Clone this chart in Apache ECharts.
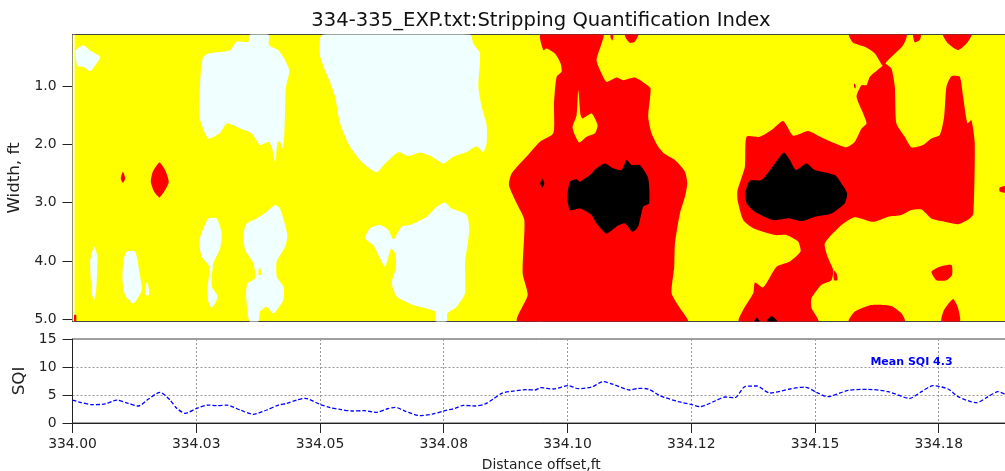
<!DOCTYPE html>
<html><head><meta charset="utf-8">
<style>html,body{margin:0;padding:0;background:#fff}#c{width:1005px;height:471px}</style>
<script src="https://cdn.jsdelivr.net/npm/echarts@6/dist/echarts.min.js"></script>
</head><body><div id="c"></div>
<script>
// All region outlines: [thousandths of a foot past 334.00, width in ft]
const xTickLabels = ["334.00","334.03","334.05","334.08","334.10","334.12","334.15","334.18"];
const widthTicks = [1,2,3,4,5];
const sqiTicks = [0,5,10,15];

const edgeBand = [
 [[0,.114],[.45,.114],[.45,5.04],[0,5.04]]
];

const lowRegions = [
 [[0.7,.38],[2.2,.30],[3.4,.38],[5.6,.50],[4.6,.64],[3.6,.74],[2.2,.67],[1.0,.66],[.7,.53]],
 [[35.74,.114],[39.58,.114],[39.71,.297],[41.6,.383],[42.94,.555],[43.82,.737],[43.14,1.01],[42.94,1.47],[42.8,1.81],[42.47,2.07],[41.93,1.955],[41.46,1.955],[40.92,2.30],[40.25,2.04],[39.58,1.955],[37.89,2.01],[36.21,1.81],[33.86,1.727],[31.16,1.64],[29.82,1.80],[27.46,1.90],[26.12,1.67],[25.58,1.47],[25.98,.669],[26.45,.497],[27.46,.44],[30.15,.41],[31.84,.383],[33.18,.24],[35.54,.24]],
 [[50.5,.114],[50.0,.47],[51.0,.726],[52.0,.926],[53.05,1.18],[54.06,1.64],[56.08,2.04],[58.77,2.33],[61.46,2.48],[63.14,2.33],[65.84,2.13],[67.86,2.2],[70.21,2.14],[72.57,2.21],[74.92,2.33],[76.94,2.21],[79.63,2.13],[81.65,2.03],[83,2.13],[83.67,1.98],[83.67,1.67],[82.66,1.355],[81.99,1.01],[82.33,.44],[80.98,.27],[80.31,.114]],
 [[27.46,3.27],[29.15,3.27],[30.15,3.53],[29.82,3.785],[28.47,4.04],[28.14,4.44],[29.35,4.61],[28.14,4.81],[27.46,4.70],[27.26,4.50],[27.66,4.10],[26.12,3.93],[25.58,3.67],[26.45,3.44]],
 [[40.92,3.04],[41.93,3.10],[43.41,3.556],[42.94,3.756],[41.26,4.01],[41.26,4.27],[42.6,4.44],[42.6,4.67],[40.59,4.90],[39.24,4.785],[37.89,4.87],[37.56,5.04],[35.74,5.04],[35.07,4.61],[35.33,4.385],[36.88,4.30],[36.55,4.04],[34.87,3.81],[34.53,3.53],[35.2,3.356],[37.22,3.27],[39.24,3.156]],
 [[4.38,3.756],[5.05,3.93],[4.78,4.5],[4.38,4.67],[3.9,4.556],[3.57,3.985]],
 [[10.97,3.84],[12.66,3.84],[13.67,4.27],[14.0,4.5],[12.32,4.73],[10.64,4.59],[10.1,4.33],[10.3,3.985]],
 [[15.0,4.36],[15.5,4.5],[15.4,4.59],[14.8,4.59],[14.75,4.47]],
 [[59.11,3.61],[60.12,3.44],[62.14,3.385],[63.82,3.47],[64.83,3.63],[66.51,3.41],[68.19,3.385],[71.56,3.24],[73.58,3.07],[75.26,2.996],[76.6,3.10],[79.63,3.21],[80.17,3.47],[79.3,4.04],[79.3,4.557],[77.61,4.785],[75.73,4.90],[75.6,5.04],[73.44,5.04],[73.31,4.87],[68.87,4.757],[65.5,4.61],[64.49,4.385],[65.37,4.10],[65.16,3.87],[64.36,3.785],[63.14,4.10],[61.8,3.90],[60.79,3.73]]
];

const midHoles = [
 [[37.9,4.10],[38.2,4.24],[37.56,4.24],[37.56,4.16]]
];

const highRegions = [
 [[10.17,2.47],[10.64,2.585],[10.17,2.66],[9.76,2.585]],
 [[17.57,2.31],[18.71,2.44],[19.45,2.64],[18.71,2.785],[17.57,2.91],[16.49,2.81],[15.82,2.64],[16.22,2.47]],
 [[.34,4.93],[.74,4.93],[.74,5.04],[.34,5.04]],
 [[94.57,.114],[107.23,.114],[106.89,.27],[105.88,.555],[106.89,.783],[107.9,.926],[109.92,.852],[111.26,.898],[113.62,.852],[115.64,.955],[116.78,1.04],[116.31,1.527],[116.98,1.81],[118.33,2.04],[119.68,2.167],[121.71,2.27],[123.73,2.47],[124.2,2.67],[123.73,2.9],[122.72,3.185],[121.71,3.70],[121.57,4.10],[121.04,4.557],[122.72,4.81],[124.27,5.04],[89.93,5.04],[91.95,4.585],[90.94,4.21],[91.28,3.30],[89.73,3.01],[88.18,2.70],[88.72,2.50],[91.75,2.21],[94.44,1.955],[97.13,1.81],[97.27,1.30],[97.8,.84],[98.81,.755],[98.61,.61],[97.47,.44],[95.78,.354],[95.11,.383]],
 [[108.7,.114],[109.25,.114],[109.1,.22],[108.75,.18]],
 [[111.6,.114],[114.3,.114],[113.6,.24],[112.6,.257],[111.8,.18]],
 [[136.18,1.87],[138.87,1.87],[141.23,1.755],[143.58,1.60],[145.6,1.85],[148.63,1.77],[151.32,1.88],[154.01,1.98],[156.37,2.05],[158.05,1.955],[159.4,1.727],[160.41,1.64],[159.73,1.47],[158.39,1.18],[159.4,.983],[160.41,.983],[161.08,.84],[163.43,.669],[164.11,.61],[165.45,.70],[166.13,1.01],[166.46,1.64],[168.15,1.87],[169.49,2.05],[171.85,2.01],[173.53,1.90],[175.21,1.84],[176.09,1.527],[176.56,1.01],[177.57,.83],[179.25,.84],[179.92,1.18],[180.8,1.64],[181.61,1.584],[182.28,1.98],[182.01,3.185],[181.27,3.27],[178.91,3.37],[175.55,3.316],[173.53,3.27],[171.51,3.116],[169.49,3.127],[167.47,3.21],[164.78,3.24],[161.75,3.33],[158.05,3.25],[155.36,3.385],[151.99,3.70],[152.67,3.956],[153.68,4.157],[153.34,4.33],[151.32,4.41],[149.3,4.64],[149.3,4.81],[150.65,5.04],[134.63,5.04],[135.5,4.84],[137.52,4.557],[137.86,4.37],[139.54,4.454],[142.23,4.10],[144.93,4.01],[147.08,3.84],[146.61,3.67],[144.25,3.556],[141.9,3.556],[137.52,3.44],[135.5,3.30],[134.36,2.956],[134.36,2.785],[135.84,2.384]],
 [[156.91,.114],[168.48,.114],[167.81,.297],[165.79,.47],[164.44,.583],[164.11,.64],[163.57,.64],[162.09,.44],[160.07,.326],[157.71,.257]],
 [[153.83,4.17],[154.4,4.22],[154.53,4.33],[153.83,4.33]],
 [[169.83,.114],[171.38,.114],[171.17,.21],[170.17,.25]],
 [[175.89,.114],[181.61,.114],[180.6,.27],[178.91,.383],[176.9,.27]],
 [[157.9,.955],[158.2,.98],[158.2,1.04],[157.9,1.02]],
 [[173.53,4.185],[175.21,4.10],[177.57,4.07],[177.7,4.24],[176.56,4.33],[174.54,4.33]],
 [[156.84,5.04],[158.05,4.87],[161.42,4.757],[165.45,4.774],[167.47,4.90],[168.15,5.04]],
 [[175.55,5.04],[176.09,4.84],[177.9,4.654],[178.91,4.81],[179.25,5.04]],
 [[187.33,2.74],[189.4,2.71],[189.4,2.84],[187.33,2.81]]
];

const highHoles = [
 [[102.18,1.07],[102.65,1.50],[103.05,1.555],[104.87,1.47],[106.08,1.67],[105.54,1.81],[103.86,1.87],[102.38,1.97],[101.5,1.84],[101.03,1.70],[101.84,1.50]]
];

const peakRegions = [
 [[107.56,2.327],[109.25,2.41],[110.93,2.44],[111.94,2.27],[112.95,2.355],[114.63,2.355],[116.31,2.585],[116.51,3.01],[115.3,3.07],[114.29,3.41],[113.15,3.5],[111.6,3.356],[109.92,3.41],[107.9,3.53],[105.88,3.356],[104.87,3.21],[102.52,3.10],[100.5,3.127],[99.96,2.90],[100.5,2.64],[101.84,2.60],[102.52,2.64],[104.53,2.527],[105.88,2.41]],
 [[94.91,2.596],[95.31,2.67],[94.91,2.74],[94.5,2.67]],
 [[143.72,2.14],[144.93,2.27],[146.14,2.44],[148.29,2.327],[149.97,2.44],[154.01,2.527],[155.36,2.67],[156.5,2.84],[156.03,3.01],[153.34,3.185],[149.97,3.24],[147.28,3.316],[144.93,3.27],[141.56,3.30],[137.86,3.156],[136.18,3.01],[135.98,2.81],[136.85,2.624],[139.21,2.613],[141.9,2.327]],
 [[137.73,5.04],[138.2,4.974],[138.87,5.04]],
 [[140.22,5.04],[141.23,4.946],[142.44,5.04]]
];

const sqiDistance = [0,1.55,3.9,6.6,8.95,11.3,13.33,15.35,17.7,19.7,21.07,22.75,25.1,27.46,29.15,31.16,33.86,36.55,39.24,41.6,43.28,45.3,46.98,50,52.04,54.06,56.41,58.77,61.46,63.48,65.16,67.18,70.21,72.9,74.92,77.28,78.96,81.32,83.33,85.02,86.7,89.05,91.75,93.43,94.57,97.13,100.16,102.18,104.87,107.23,109.25,112.61,114.29,116.31,118.67,122.38,124.94,126.76,129.79,131.8,133.82,135.84,138.2,140.89,144.93,147.96,150.31,152.53,156.71,160.74,164.78,169.16,171.51,173.87,176.9,178.91,182.62,184.97,186.99,188.34,189.4];
const sqiValues = [4.1,3.7,3.27,3.4,4.1,3.5,3.04,4.29,5.48,4.1,2.62,1.73,2.62,3.2,3.1,3.2,2.32,1.55,2.32,3.2,3.5,4.1,4.4,3.33,2.74,2.44,2.14,2.2,1.9,2.5,2.8,2.14,1.31,1.61,2.14,2.62,3.15,3.04,3.39,4.29,5.3,5.71,5.95,5.89,6.31,6.07,6.67,6.13,6.43,7.38,6.9,5.89,6.19,6.07,4.88,3.81,3.33,2.92,3.93,4.64,4.52,6.49,6.61,5.36,6.07,6.43,5.48,4.7,5.83,6.01,5.6,4.4,5.6,6.67,6.07,4.7,3.63,4.7,5.6,5.18,5.0];

const xMin = 334, xMax = 334.1894;
const toDistance = d => 334 + d / 1000;
const FONT = 'DejaVu Sans';

function regionSeries(name, regions, color, z, smooth) {
  return {
    type: 'custom', name, xAxisIndex: 0, yAxisIndex: 0, z, silent: true, clip: true, animation: false,
    encode: {x: 0, y: 1},
    data: regions.map(r => [toDistance(r[0][0]), r[0][1]]),
    renderItem(params, api) {
      const pts = regions[params.dataIndex].map(p => api.coord([toDistance(p[0]), p[1]]));
      return {type: 'polygon', shape: {points: pts, smooth}, style: {fill: color, stroke: null}};
    }
  };
}

const frame = '#444';
const gridDots = {color: '#999', type: [2, 2], width: 1};
const chart = echarts.init(document.getElementById('c'), null, {renderer: 'canvas'});
chart.setOption({
  animation: false,
  backgroundColor: '#fff',
  title: {text: '334-335_EXP.txt:Stripping Quantification Index', left: 536, top: 6, textAlign: 'center',
    textStyle: {fontFamily: FONT, fontSize: 19.6, fontWeight: 'normal', color: '#111'}},
  grid: [
    {left: 72.5, top: 34.5, width: 937.5, height: 287, show: true, backgroundColor: '#ffff00', borderColor: frame, borderWidth: 1, outerBoundsMode: 'none'},
    {left: 72.5, top: 339, width: 937.5, height: 84, show: true, backgroundColor: '#fff', borderColor: frame, borderWidth: 1, outerBoundsMode: 'none'}
  ],
  xAxis: [
    {gridIndex: 0, type: 'value', min: xMin, max: xMax, show: false},
    {gridIndex: 1, type: 'value', min: xMin, max: xMax, interval: 0.025,
      name: 'Distance offset,ft', nameLocation: 'middle', nameGap: 35,
      nameTextStyle: {fontFamily: FONT, fontSize: 13.9, color: '#222'},
      axisLine: {show: true, lineStyle: {color: '#222'}},
      axisTick: {show: true, length: 10, lineStyle: {color: '#222'}},
      axisLabel: {fontFamily: FONT, fontSize: 13.9, color: '#222', margin: 14, showMaxLabel: false,
        formatter: (v, i) => xTickLabels[i] || ''},
      splitLine: {show: true, lineStyle: gridDots}}
  ],
  yAxis: [
    {gridIndex: 0, type: 'value', inverse: true, min: 0.114, max: 5.04,
      name: 'Width, ft', nameLocation: 'middle', nameGap: 39,
      nameTextStyle: {fontFamily: FONT, fontSize: 16.7, color: '#222'},
      axisLine: {show: true, lineStyle: {color: '#222'}},
      axisTick: {show: true, length: 10, customValues: widthTicks, lineStyle: {color: '#222'}},
      axisLabel: {fontFamily: FONT, fontSize: 13.9, color: '#222', margin: 16, customValues: widthTicks,
        formatter: v => Number(v).toFixed(1)},
      splitLine: {show: false}},
    {gridIndex: 1, type: 'value', min: sqiTicks[0], max: sqiTicks[3], interval: 5,
      name: 'SQI', nameLocation: 'middle', nameGap: 31,
      nameTextStyle: {fontFamily: FONT, fontSize: 16.7, color: '#222'},
      axisLine: {show: true, lineStyle: {color: '#222'}},
      axisTick: {show: true, length: 10, lineStyle: {color: '#222'}},
      axisLabel: {fontFamily: FONT, fontSize: 13.9, color: '#222', margin: 16},
      splitLine: {show: true, lineStyle: gridDots}}
  ],
  series: [
    regionSeries('Edge', edgeBand, '#ffffc0', 1, 0),
    regionSeries('Low', lowRegions, '#f0ffff', 2, 0.2),
    regionSeries('Mid holes', midHoles, '#ffff00', 3, 0),
    regionSeries('High', highRegions, '#ff0000', 4, 0.2),
    regionSeries('High holes', highHoles, '#ffff00', 5, 0.2),
    regionSeries('Peak', peakRegions, '#000000', 6, 0.2),
    {type: 'line', name: 'SQI', xAxisIndex: 1, yAxisIndex: 1, showSymbol: false, smooth: 0.25, silent: true,
      data: sqiDistance.map((d, i) => [toDistance(d), sqiValues[i]]),
      lineStyle: {color: '#0000ff', width: 1.3, type: [4, 2]},
      markPoint: {silent: true, symbol: 'circle', symbolSize: 0,
        data: [{coord: [334.1612, 10.9], label: {show: true, position: 'right', distance: 0, formatter: 'Mean SQI 4.3',
          fontFamily: FONT, fontSize: 11, fontWeight: 'bold', color: '#0000ff'}}]}}
  ]
});
</script></body></html>
